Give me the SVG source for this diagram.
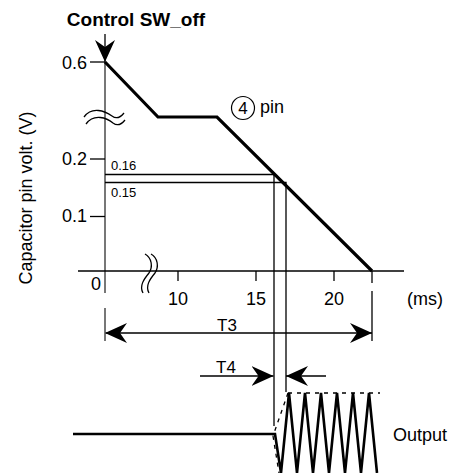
<svg xmlns="http://www.w3.org/2000/svg" width="457" height="473" viewBox="0 0 457 473">
<style>
text{font-family:"Liberation Sans",Arial,sans-serif;fill:#000}
.lbl{font-size:18px}
.sm{font-size:13px}
.ax{stroke:#555;stroke-width:1.6;fill:none}
.ln{stroke:#000;stroke-width:1.3;fill:none}
.thick{stroke:#000;stroke-width:3.2;fill:none;stroke-linejoin:miter}
.dash{stroke:#000;stroke-width:1.3;fill:none;stroke-dasharray:4 5}
</style>
<defs>
<marker id="ah" viewBox="0 0 22 20" markerUnits="userSpaceOnUse" markerWidth="22" markerHeight="20" refX="22" refY="10" orient="auto-start-reverse">
<path d="M0,0 L22,10 L0,20 L7,10 z" fill="#000"/>
</marker>
</defs>
<rect width="457" height="473" fill="#fff"/>
<g id="title">
<text x="136" y="26" font-size="19" font-weight="bold" text-anchor="middle">Control SW_off</text>
</g>
<g id="connectors">
<line x1="105" y1="34" x2="105" y2="62" class="ln" marker-end="url(#ah)"/>
<line x1="105" y1="333" x2="372" y2="333" class="ln" marker-start="url(#ah)" marker-end="url(#ah)"/>
<line x1="200" y1="376" x2="273.5" y2="376" class="ln" marker-end="url(#ah)"/>
<line x1="326" y1="376" x2="286" y2="376" class="ln" marker-end="url(#ah)"/>
</g>
<g id="axes">
<line x1="105" y1="62" x2="105" y2="293" class="ax"/>
<line x1="105" y1="308" x2="105" y2="341" class="ax"/>
<line x1="78" y1="271" x2="404" y2="271" class="ln"/>
<line x1="90" y1="62" x2="105" y2="62" class="ln"/>
<line x1="90" y1="159" x2="105" y2="159" class="ln"/>
<line x1="90" y1="216.5" x2="105" y2="216.5" class="ln"/>
<line x1="178" y1="271" x2="178" y2="281" class="ln"/>
<line x1="256" y1="271" x2="256" y2="281" class="ln"/>
<line x1="334" y1="271" x2="334" y2="281" class="ln"/>
<line x1="372" y1="271" x2="372" y2="283" class="ln"/>
<line x1="372" y1="291" x2="372" y2="341" class="ln"/>
<path d="M84,117 C92,106 105,111 112,116 C116,119 120,118 124,113" class="ln"/>
<path d="M86,124 C94,113 107,118 113,123 C117,126 121,125 125,120" class="ln"/>
<path d="M145,254 C152,258 153,267 149,273 C144,279 139,286 143,293" class="ln"/>
<path d="M151,254 C158,258 159,267 155,273 C150,279 145,286 149,293" class="ln"/>
</g>
<g id="labels">
<text x="87" y="69" class="lbl" text-anchor="end">0.6</text>
<text x="87" y="165" class="lbl" text-anchor="end">0.2</text>
<text x="87" y="222" class="lbl" text-anchor="end">0.1</text>
<text x="96" y="290" class="lbl" text-anchor="middle">0</text>
<text x="178" y="305" class="lbl" text-anchor="middle">10</text>
<text x="256" y="305" class="lbl" text-anchor="middle">15</text>
<text x="334" y="305" class="lbl" text-anchor="middle">20</text>
<text x="425" y="305" class="lbl" text-anchor="middle">(ms)</text>
<text x="0" y="0" class="lbl" text-anchor="middle" transform="translate(32,198) rotate(-90)">Capacitor pin volt. (V)</text>
<text x="111" y="170" class="sm">0.16</text>
<text x="111" y="197" class="sm">0.15</text>
<text x="227" y="331" font-size="17" text-anchor="middle">T3</text>
<text x="226" y="373" font-size="17" text-anchor="middle">T4</text>
<text x="393" y="441" class="lbl">Output</text>
</g>
<g id="pin-label">
<circle cx="243" cy="108" r="11.5" fill="none" stroke="#000" stroke-width="1.2"/>
<text x="243" y="114" font-size="17" text-anchor="middle">4</text>
<text x="260" y="113" class="lbl">pin</text>
</g>
<g id="curve">
<polyline points="105,62 158,117 217,117 372,271" class="thick"/>
</g>
<g id="guides">
<polyline points="105,174.5 274,174.5 274,426" class="ln"/>
<polyline points="105,182.5 286,182.5 286,392" class="ln"/>
</g>
<g id="output">
<polyline points="73,434 275,434 281,473 289,393 297,473 305,393 313,473 321,393 329,473 337,393 345,473 353,393 361,473 369,393 377,473" fill="none" stroke="#000" stroke-width="2.6" stroke-linejoin="miter"/>
<line x1="288" y1="393" x2="380" y2="393" class="dash"/>
<line x1="288" y1="393" x2="273" y2="436" class="dash"/>
<line x1="273" y1="436" x2="279" y2="473" class="dash"/>
</g>
</svg>
